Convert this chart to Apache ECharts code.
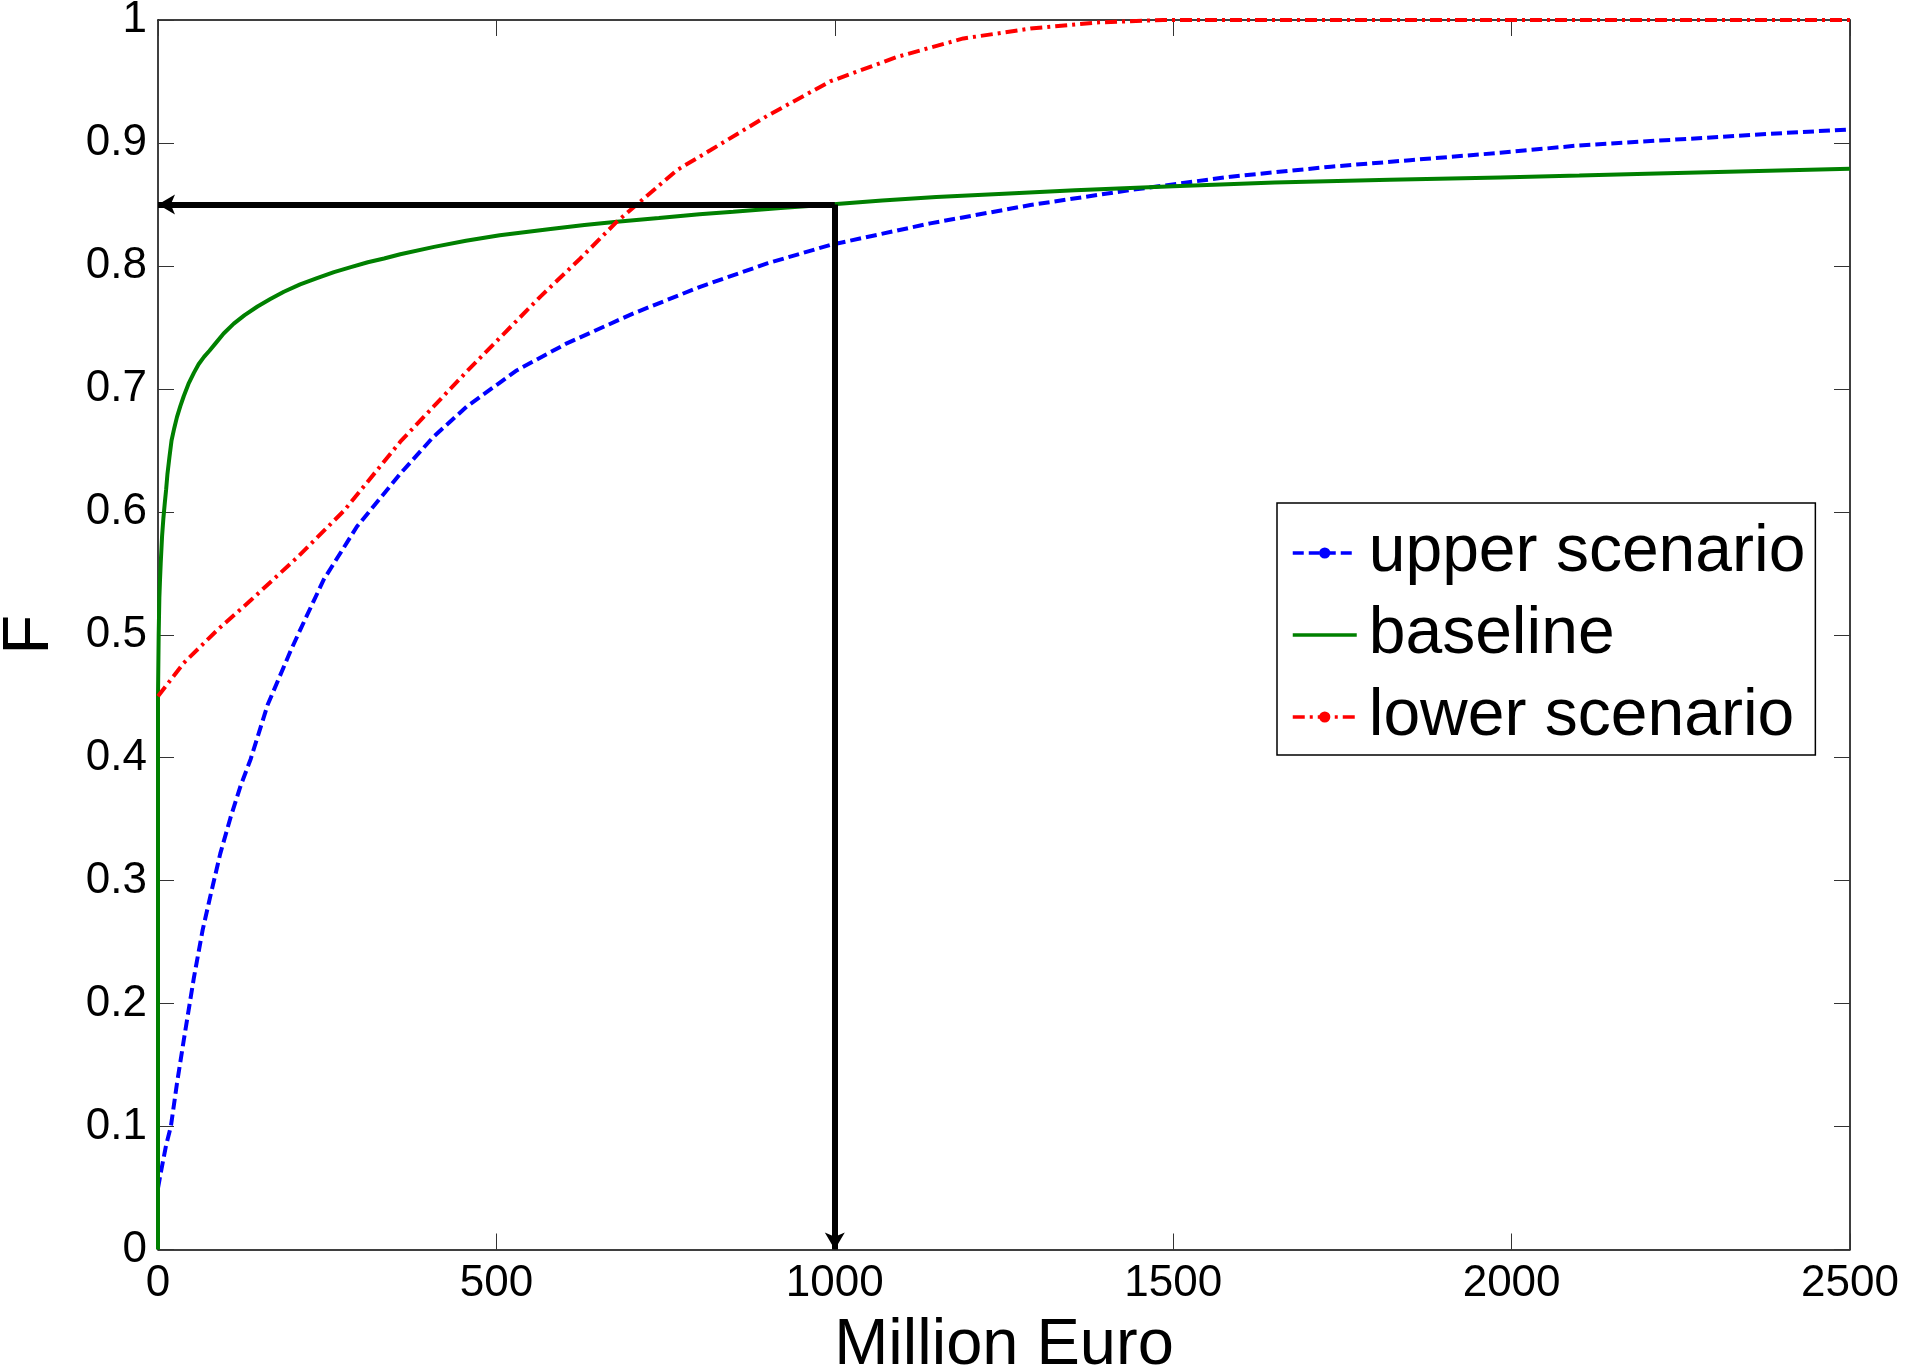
<!DOCTYPE html>
<html>
<head>
<meta charset="utf-8">
<script src="https://cdn.jsdelivr.net/npm/echarts@6/dist/echarts.min.js"></script>
<style>html,body{margin:0;padding:0;background:#fff;}#c{width:1923px;height:1371px;}</style>
</head>
<body>
<div id="c"></div>
<script>
// ---- data ----
const seriesNames = ['upper scenario', 'baseline', 'lower scenario'];
const xTicks = [0, 500, 1000, 1500, 2000, 2500];
const yTicks = [0, 0.1, 0.2, 0.3, 0.4, 0.5, 0.6, 0.7, 0.8, 0.9, 1];

const upperX = [0, 5, 12, 19, 28, 38, 53, 66, 78, 92, 107, 122, 137, 162, 196, 211, 245, 294, 358, 407, 456, 530, 604, 703, 801, 900, 993, 1141, 1289, 1437, 1585, 1733, 1850, 1983, 2100, 2250, 2400, 2500];
const upperY = [0.05, 0.065, 0.085, 0.10, 0.135, 0.17, 0.221, 0.26, 0.289, 0.322, 0.351, 0.377, 0.399, 0.443, 0.487, 0.505, 0.545, 0.588, 0.631, 0.661, 0.6855, 0.715, 0.737, 0.7615, 0.783, 0.802, 0.817, 0.8346, 0.8495, 0.8617, 0.8726, 0.8807, 0.886, 0.892, 0.898, 0.903, 0.908, 0.911];

const baseX = [0, 0, 1, 2, 3, 4, 6, 8, 10, 12, 14, 17, 20, 24, 28, 33, 38, 45, 53, 60, 68, 76, 85, 97, 112, 128, 147, 166, 186, 210, 235, 260, 285, 310, 334, 358, 408, 455, 505, 580, 630, 678, 740, 800, 850, 920, 993, 1070, 1150, 1250, 1355, 1500, 1650, 1820, 1983, 2100, 2200, 2350, 2500];
const baseY = [0, 0.45, 0.50, 0.53, 0.545, 0.558, 0.58, 0.595, 0.607, 0.618, 0.631, 0.645, 0.658, 0.668, 0.677, 0.686, 0.694, 0.704, 0.713, 0.72, 0.726, 0.731, 0.737, 0.745, 0.753, 0.760, 0.767, 0.773, 0.779, 0.785, 0.79, 0.795, 0.799, 0.803, 0.806, 0.8095, 0.8155, 0.8205, 0.825, 0.830, 0.8333, 0.836, 0.839, 0.842, 0.844, 0.847, 0.850, 0.8532, 0.856, 0.8587, 0.8615, 0.8647, 0.8678, 0.870, 0.872, 0.8735, 0.875, 0.877, 0.879];

const lowerX = [0, 38, 88, 137, 206, 275, 358, 407, 456, 506, 565, 624, 678, 712, 767, 816, 900, 993, 1092, 1190, 1289, 1387, 1485, 2500];
const lowerY = [0.45, 0.477, 0.504, 0.528, 0.563, 0.601, 0.657, 0.6855, 0.714, 0.742, 0.775, 0.806, 0.836, 0.852, 0.878, 0.894, 0.922, 0.95, 0.97, 0.985, 0.993, 0.998, 1, 1];

// arrow annotation: from (1000, 0.85) to the axes
const arrowStart = [1000, 0.85];
const arrowLeftEnd = [0, 0.85];
const arrowDownEnd = [1000, 0];

const pairs = (xs, ys) => xs.map((x, i) => [x, ys[i]]);

const FONT = "'Liberation Sans', Arial, Helvetica, sans-serif";
const chart = echarts.init(document.getElementById('c'), null, {renderer: 'canvas'});

const tickStyle = {show: true, inside: true, length: 16, lineStyle: {color: '#333', width: 1}};
const axisLine = {show: true, onZero: false, lineStyle: {color: '#000', width: 1.5}};

chart.setOption({
  animation: false,
  backgroundColor: '#fff',
  grid: {left: 158, top: 20, right: 73, bottom: 121.5, containLabel: false, outerBoundsMode: 'none'},
  legend: {
    orient: 'vertical',
    left: 1277, top: 503,
    data: [
      {name: seriesNames[0]},
      {name: seriesNames[1], itemStyle: {opacity: 0, borderWidth: 0}},
      {name: seriesNames[2]}
    ],
    itemWidth: 64, itemHeight: 14, itemGap: 12,
    padding: [15, 10, 3, 14],
    borderColor: '#000', borderWidth: 1.5, backgroundColor: '#fff',
    lineStyle: {width: 3.5},
    textStyle: {fontFamily: FONT, fontSize: 66, color: '#000', lineHeight: 70, padding: [0, 0, 0, 7]}
  },
  xAxis: [{
    type: 'value', min: 0, max: 2500, interval: 500,
    name: 'Million Euro', nameLocation: 'middle', nameGap: 64,
    nameTextStyle: {fontFamily: FONT, fontSize: 65, color: '#000'},
    axisLine: axisLine, axisTick: tickStyle, splitLine: {show: false},
    axisLabel: {fontFamily: FONT, fontSize: 44, color: '#000', margin: 12,
      formatter: v => String(v)}
  }, {
    type: 'value', position: 'top', min: 0, max: 2500, interval: 500,
    axisLine: axisLine, axisTick: tickStyle, axisLabel: {show: false}, splitLine: {show: false}
  }],
  yAxis: [{
    type: 'value', min: 0, max: 1, interval: 0.1,
    name: 'F', nameLocation: 'middle', nameGap: 95, nameRotate: 90,
    nameTextStyle: {fontFamily: FONT, fontSize: 65, color: '#000'},
    axisLine: axisLine, axisTick: tickStyle, splitLine: {show: false},
    axisLabel: {fontFamily: FONT, fontSize: 44, color: '#000', margin: 11,
      formatter: v => String(Math.round(v * 10) / 10)}
  }, {
    type: 'value', position: 'right', min: 0, max: 1, interval: 0.1,
    axisLine: axisLine, axisTick: tickStyle, axisLabel: {show: false}, splitLine: {show: false}
  }],
  series: [{
    name: seriesNames[0], type: 'line', data: pairs(upperX, upperY),
    symbol: 'circle', symbolSize: 9, showSymbol: false, smooth: false,
    itemStyle: {color: '#0000ff'},
    lineStyle: {color: '#0000ff', width: 4, type: [11, 5]}
  }, {
    name: seriesNames[1], type: 'line', data: pairs(baseX, baseY),
    symbol: 'none', showSymbol: false,
    itemStyle: {color: '#008000'},
    lineStyle: {color: '#008000', width: 4, type: 'solid'},
    markLine: {
      silent: true, animation: false,
      symbol: ['none', 'arrow'], symbolSize: [15, 17],
      label: {show: false},
      lineStyle: {color: '#000', width: 6, type: 'solid'},
      emphasis: {disabled: true},
      data: [
        [{coord: arrowStart}, {coord: arrowLeftEnd}],
        [{coord: arrowStart}, {coord: arrowDownEnd}]
      ]
    }
  }, {
    name: seriesNames[2], type: 'line', data: pairs(lowerX, lowerY),
    symbol: 'circle', symbolSize: 9, showSymbol: false,
    itemStyle: {color: '#ff0000'},
    lineStyle: {color: '#ff0000', width: 4, type: [12, 5, 3, 5]}
  }]
});
</script>
</body>
</html>
